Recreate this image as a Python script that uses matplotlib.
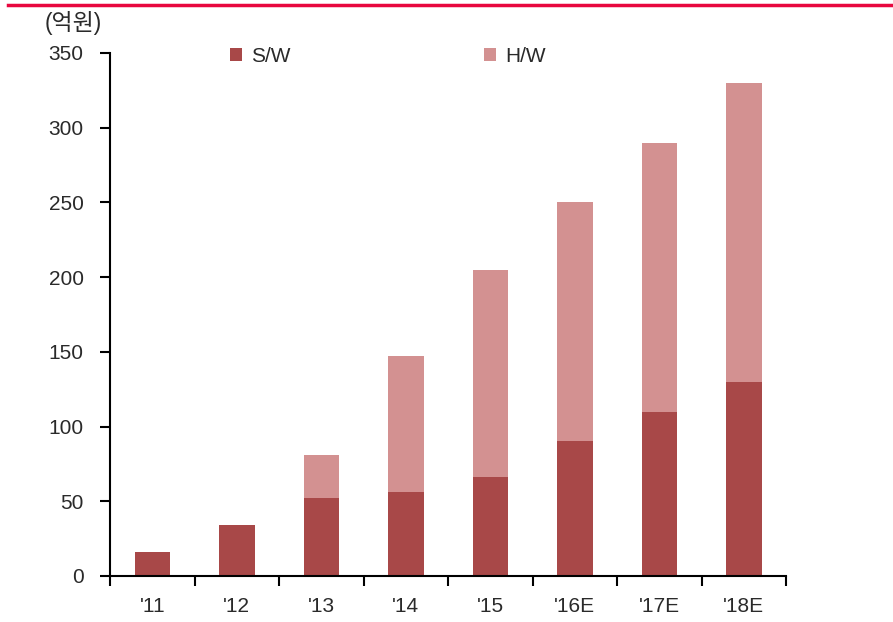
import matplotlib
matplotlib.use("Agg")
import matplotlib.pyplot as plt
from matplotlib.lines import Line2D
import numpy as np

plt.rcParams['font.family'] = ['Liberation Sans', 'Noto Sans CJK KR', 'DejaVu Sans']

categories = ["'11", "'12", "'13", "'14", "'15", "'16E", "'17E", "'18E"]
software = [16, 34, 52, 56, 66, 90, 110, 130]
hardware = [0, 0, 29, 91, 139, 160, 180, 200]
yticks = [0, 50, 100, 150, 200, 250, 300, 350]

sw_color = '#A84848'
hw_color = '#D39191'
text_color = '#2A2A2A'
fs = 15

fig = plt.figure(figsize=(8.93, 6.22), dpi=100)
ax = fig.add_axes([0.1232, 0.074, 0.7570, 0.8408])

x = np.arange(len(categories))
ax.bar(x, software, width=0.42, color=sw_color, label='S/W', zorder=2)
ax.bar(x, hardware, width=0.42, bottom=software, color=hw_color, label='H/W', zorder=2)

ax.set_xlim(-0.5, len(categories) - 0.5)
ax.set_ylim(0, 350)
ax.set_yticks(yticks)
ax.set_xticks(np.arange(len(categories) + 1) - 0.5, minor=False)
ax.set_xticklabels([])
ax.set_xticks(x, minor=True)
ax.set_xticklabels(categories, minor=True)
ax.tick_params(axis='x', which='major', direction='out', length=7, width=1.5)
ax.tick_params(axis='x', which='minor', length=0, pad=15, labelsize=fs, labelcolor=text_color)
ax.tick_params(axis='y', direction='out', length=7, width=1.5, pad=12,
               labelsize=fs, labelcolor=text_color)

for side in ('top', 'right'):
    ax.spines[side].set_visible(False)
for side in ('left', 'bottom'):
    ax.spines[side].set_linewidth(1.5)

leg = ax.legend(ncol=2, loc='upper left', bbox_to_anchor=(0.150, 1.048),
                frameon=False, fontsize=fs, handlelength=0.55, handleheight=0.55,
                handletextpad=0.45, columnspacing=9.3, labelcolor=text_color)

fig.text(0.05, 0.963, '(억원)', fontsize=16.5, color=text_color, va='center', ha='left')

fig.add_artist(Line2D([0.009, 0.999], [0.992, 0.992], transform=fig.transFigure,
                      color='#E8073F', linewidth=2.5))

fig.savefig('out.png', dpi=100)
